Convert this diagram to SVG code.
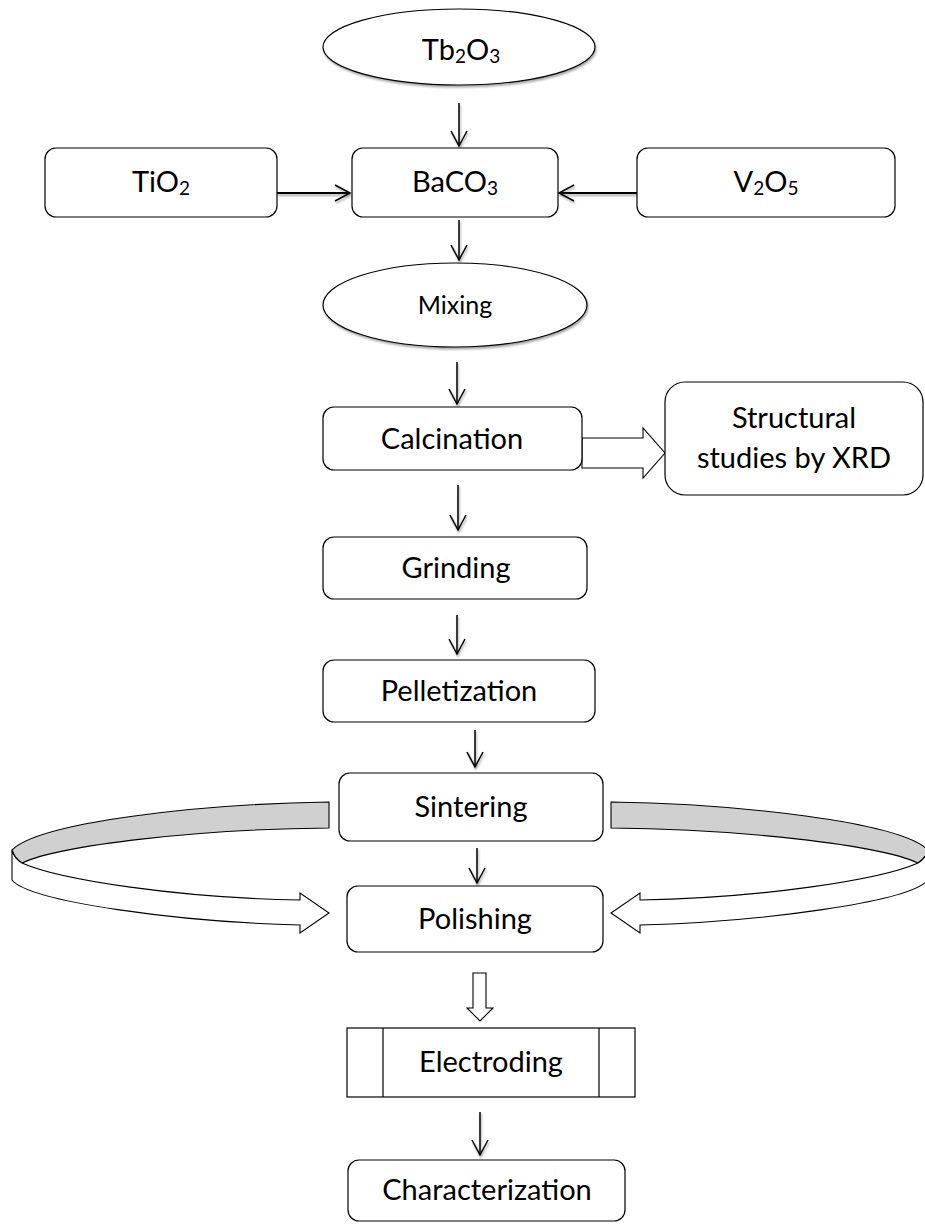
<svg xmlns="http://www.w3.org/2000/svg" width="925" height="1225" viewBox="0 0 925 1225">
<style>
.box{fill:#fff;stroke:#000;stroke-width:1.2}
.ell{fill:#fff;stroke:#000;stroke-width:1.2;filter:url(#sh)}
.t{font-family:"Lato","Open Sans",sans-serif;font-size:29px;fill:#000;text-anchor:middle}
.sub{font-size:19px}
.c{stroke:#000;stroke-width:1.5;fill:none;marker-end:url(#v)}
.ch{stroke:#000;stroke-width:2.2;fill:none;marker-end:url(#v)}
.blk{fill:#fff;stroke:#000;stroke-width:1.1;stroke-linejoin:miter}
.gray{fill:#d0d0d0;stroke:#000;stroke-width:1.1}
</style>
<defs>
<marker id="v" viewBox="0 0 18 18" markerWidth="18" markerHeight="18" refX="16" refY="9" orient="auto" markerUnits="userSpaceOnUse">
<path d="M1,1 L16,9 L1,17" fill="none" stroke="#000" stroke-width="1.5"/>
</marker>
<filter id="sh" x="-10%" y="-10%" width="130%" height="140%">
<feDropShadow dx="1" dy="2" stdDeviation="1" flood-color="#000" flood-opacity="0.35"/>
</filter>
</defs>
<rect width="925" height="1225" fill="#fff"/>

<g id="connectors" filter="url(#sh)">
<path class="c" d="M459,103 V146"/>
<path class="ch" d="M277,193 H350"/>
<path class="ch" d="M637,193 H559"/>
<path class="c" d="M459,220 V260"/>
<path class="c" d="M457,362 V404"/>
<path class="c" d="M458,485 V530"/>
<path class="c" d="M457,615 V654"/>
<path class="c" d="M475,730 V767"/>
<path class="c" d="M477,848 V883"/>
<path class="c" d="M480,1112 V1155"/>
</g>
<g id="block-arrows">
<polygon class="blk" points="582,438 643,438 643,428 665,453 643,478 643,468 582,468"/>
<polygon class="blk" points="473,973 486,973 486,1008 493,1008 480,1021 467,1008 473,1008"/>
<g id="loop-left">
<path class="gray" d="M329,802 C200,804 40,822 12,850 Q14,858 22,863 C60,845 200,829 329,828 Z"/>
<path class="blk" d="M12,850 Q14,858 22,863 C60,880 180,898 300,900 L300,893 L329,913 L300,933 L300,925 C180,922 30,902 12,880 Z"/>
</g>
<g id="loop-right" transform="translate(940,0) scale(-1,1)">
<path class="gray" d="M329,802 C200,804 40,822 12,850 Q14,858 22,863 C60,845 200,829 329,828 Z"/>
<path class="blk" d="M12,850 Q14,858 22,863 C60,880 180,898 300,900 L300,893 L329,913 L300,933 L300,925 C180,922 30,902 12,880 Z"/>
</g>
</g>

<g id="tb2o3">
<ellipse class="ell" cx="459" cy="47" rx="136" ry="38"/>
<text class="t" x="461" y="60">Tb<tspan class="sub" dy="3">2</tspan><tspan dy="-3">O</tspan><tspan class="sub" dy="3">3</tspan></text>
</g>
<g id="tio2">
<rect class="box" x="45" y="148" width="232" height="69" rx="11"/>
<text class="t" x="161" y="192">TiO<tspan class="sub" dy="3">2</tspan></text>
</g>
<g id="baco3">
<rect class="box" x="352" y="148" width="206" height="69" rx="11"/>
<text class="t" x="455" y="192">BaCO<tspan class="sub" dy="3">3</tspan></text>
</g>
<g id="v2o5">
<rect class="box" x="637" y="148" width="258" height="69" rx="11"/>
<text class="t" x="766" y="192">V<tspan class="sub" dy="3">2</tspan><tspan dy="-3">O</tspan><tspan class="sub" dy="3">5</tspan></text>
</g>
<g id="mixing">
<ellipse class="ell" cx="455" cy="305" rx="132" ry="42"/>
<text class="t" x="455" y="314" style="font-size:25px">Mixing</text>
</g>
<g id="calcination">
<rect class="box" x="323" y="407" width="259" height="63" rx="11"/>
<text class="t" x="452" y="449">Calcination</text>
</g>
<g id="xrd">
<rect class="box" x="665" y="382" width="258" height="113" rx="20"/>
<text class="t" x="794" y="428">Structural</text>
<text class="t" x="794" y="468">studies by XRD</text>
</g>
<g id="grinding">
<rect class="box" x="323" y="537" width="264" height="62" rx="11"/>
<text class="t" x="456" y="578">Grinding</text>
</g>
<g id="pelletization">
<rect class="box" x="323" y="660" width="272" height="62" rx="11"/>
<text class="t" x="459" y="701">Pelletization</text>
</g>
<g id="sintering">
<rect class="box" x="339" y="773" width="264" height="68" rx="11"/>
<text class="t" x="471" y="817">Sintering</text>
</g>
<g id="polishing">
<rect class="box" x="347" y="886" width="256" height="66" rx="11"/>
<text class="t" x="475" y="929">Polishing</text>
</g>
<g id="electroding">
<rect class="box" x="347" y="1028" width="288" height="69"/>
<line x1="383" y1="1028" x2="383" y2="1097" stroke="#000" stroke-width="1.2"/>
<line x1="599" y1="1028" x2="599" y2="1097" stroke="#000" stroke-width="1.2"/>
<text class="t" x="491" y="1072">Electroding</text>
</g>
<g id="characterization">
<rect class="box" x="348" y="1160" width="277" height="61" rx="11"/>
<text class="t" x="487" y="1200">Characterization</text>
</g>
</svg>
